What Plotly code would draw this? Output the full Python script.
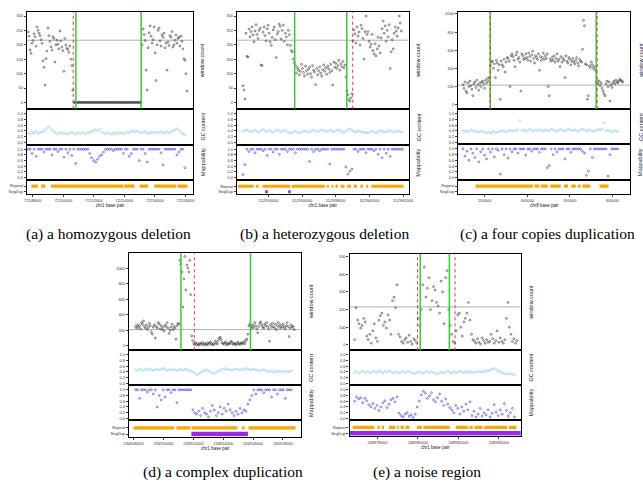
import plotly.graph_objects as go

W, H = 643, 485

# ====================== DATA ======================
# ---- (a) homozygous deletion ----
A_XTICKS = [72148000, 72150000, 72152000, 72154000, 72156000, 72158000]
A_XRANGE = [72147613, 72158494]
A_COUNT_START, A_COUNT_STEP = 72147690, 65
A_COUNT = ([245,230,182,170,205,215,238,228,195,262, 250,240,232,218,205,145,122,60,152,178,
            258,232,212,193,182,228,222,140,200,216, 202,186,248,214,192,180,108,222,200,188,
            184,174,196,150,128,42]
           + [0] * 69 +
           [200,255,236,215,112,43,190,242,266,230, 206,218,262,172,76,200,250,258,214,196,
            234,226,240,190,206,112,210,198,232,226, 246,192,200,216,234,206,222,226,196,230,
            212,186,152,146,100,40])
A_TRACK_START, A_TRACK_STEP = 72147690, 130
A_GC = [34,30,36,33,38,31,35,37,40,47, 55,52,44,38,33,30,35,32,34,31, 29,33,36,32,30,34,31,35,33,30,
        36,34,38,42,45,40,46,37,33,30, 34,31,29,33,30,35,32,34,31,33, 36,34,38,42,37,40,35,33,36,38,
        34,31,35,37,33,36,34,38,32,35, 37,34,36,40,44,48,42,35,30,27]
A_MAP = [100,100,85,100,75,100,100,100,90,100, 100,100,80,100,100,92,100,100,72,100,
         88,100,78,100,50,100,100,100,100,100, 100,85,70,60,55,65,75,80,90,100,
         100,100,100,95,100,100,100,100,85,100, 100,75,85,100,100,100,60,100,100,85,
         55,100,100,100,100,100,100,88,45,100, 100,100,100,100,100,80,90,100,100,35]
A_REPEAT = [(72147900,72148320),(72148540,72148820),(72149190,72153920),(72153980,72154670),
            (72154990,72155550),(72155960,72157400),(72157480,72158130)]
A_SEGDUP = []
A_GREEN = [72150819, 72155095]
A_RED = [72150645]
A_MEAN = 216
A_YRANGE, A_YTICKS = [-22, 314], [0, 50, 100, 150, 200, 250, 300]

# ---- (b) heterozygous deletion ----
B_XTICKS = [152954000, 152956000, 152958000, 152960000, 152962000]
B_XRANGE = [152952128, 152962333]
B_COUNT_START, B_COUNT_STEP = 152952480, 60
B_COUNT = ([58,43,12] +
           [240,160,158,255,228,246,262,235,210,248, 270,236,222,250,258,130,128,244,262,232,
            214,256,268,240,210,198,226,252,262,218, 156,238,246,272,264,220,250,268,212,240,
            228,200,250,235,198,180,176,150] +
           [138,128,102,120,112,96,108,132,118,104, 92,126,110,98,115,122,100,88,128,112,
            106,62,118,96,110,124,102,92,114,130, 108,120,98,126,116,104,132,110,60,140,
            122,136,118,128,146,112,134,124,142,120, 130,88] +
           [40,26,10,4,16,30] +
           [214,252,238,206,262,230,244,200,268,256, 222,150,246,300,236,246,212,192,202,236,
            180,168,204,162,186,226,196,172,224,256, 282,240,266,212,250,228,270,118,176,218,
            186,240,262,248,230,258,300,276,248])
B_TRACK_START, B_TRACK_STEP = 152952480, 120
B_GC = [38,42,44,40,36,41,43,39,35,42, 45,40,37,43,38,35,41,44,39,36, 40,42,38,34,33,37,40,35,32,36,
        39,41,38,35,40,43,39,37,41,44, 42,39,38,43,40,36,41,44,42,38, 35,40,45,47,42,38,36,41,39,35,
        37,34,33,38,40,36,34,38,41,39, 37,36,40,42,38,36,39,41,38,37]
B_MAP = [11,46,100,92,100,100,88,100,100,100, 95,100,78,100,100,90,100,100,82,100,
         100,100,92,100,100,100,88,100,100,100, 100,100,100,57,100,92,100,100,95,100,
         100,100,100,48,100,100,100,100,100,100, 100,38,12,22,30,100,100,92,100,100,
         100,88,100,100,100,95,100,82,100,70, 100,86,100,75,100,100,100,100,100,100]
B_REPEAT = [(152952186,152953123),(152953257,152953415),(152953649,152955305),(152955404,152957352),
            (152957469,152957586),(152957744,152957861),(152957978,152958130),(152958288,152958522),
            (152958680,152958914),(152959066,152959265),(152959458,152959616),(152959809,152959926),
            (152960119,152962032)]
B_SEGDUP = [(152953801,152953959),(152955170,152955322)]
B_GREEN = [152955556, 152958657]
B_RED = [152959008]
B_MEAN = 216
B_YRANGE, B_YTICKS = [-22, 314], [0, 50, 100, 150, 200, 250, 300]

# ---- (c) four copies duplication ----
C_XTICKS = [250000, 300000, 350000, 400000]
C_XRANGE = [218823, 421131]
C_COUNT_START, C_COUNT_STEP = 224600, 1150
C_COUNT = ([220,180,250,150,130,240,200,260,210,170, 100,230,250,190,270,220,160,240,200,250,
            260,230,180,270,240,290,260,300] +
           [430,470,480,400,450,300,490,460,380,440, 60, 480,440,420,500,360,470,520,510,480, 200,
            540,560,530,490,420,550,580,500,520,470, 150,
            560,540,500,510,560,520,490,570,530,480, 550,590,510,460,540,520,500,560,380,530,
            490,520,570,500,540,510,560, 200, 100,
            500,480,520,490,540,470,510,560,480,500, 420,530,470,510,490,300,540,480,460,520,
            500,440,480,510,470,450,490,520,460,430, 500,480,470, 610, 930, 870, 450,440, 60, 100,
            430,410,470,440,400,420,380] +
           [250,270,230,260,210,240,180,150,120,100, 230,260,200,250,40,220,190,240,260,230,
            270,250,240,260,280,270,260,250])
C_TRACK_START, C_TRACK_STEP = 224600, 2300
C_GC = [42,38,40,36,44,39,41,37,35,40, 38,34,33,36,32,35,38,34,37,39, 41,38,36,40,42,38,41,39,43,75,
        40,44,38,42,46,41,39,43,40,45, 42,38,44,41,39,46,43,40,38,42, 45,41,39,43,47,42,40,44,41,38,
        43,46,42,39,41,44,40,38,42,45, 43,47,68,40,42,38,36,41,39,37]
C_MAP = [100,75,92,60,100,85,70,100,55,90, 100,78,65,100,88,100,72,100,95,12,
         100,80,100,68,100,90,100,100,85,100, 100,100,78,100,100,92,100,100,100,88,
         100,100,100,35,42,100,80,100,90,100, 100,100,65,100,100,88,100,100,100,100,
         100,92,85,8,22,100,70,100,100,100, 100,100,100,100,5,80,100,100,100,100]
C_REPEAT = [(239261,306580),(308543,314316),(316280,323900),(327017,339372),(343183,347801),
            (351612,357040),(359349,362467),(364776,374014),(384752,395492)]
C_SEGDUP = []
C_GREEN = [256582, 380942]
C_RED = [256235, 382097]
C_MEAN = 216
C_YRANGE, C_YTICKS = [-48, 1022], [0, 200, 400, 600, 800, 1000]

# ---- (d) complex duplication ----
D_XTICKS = [234908000, 234910000, 234912000, 234914000, 234916000, 234918000]
D_XRANGE = [234907690, 234919234]
D_COUNT_START, D_COUNT_STEP = 234908130, 66
D_COUNT = ([250,230,270,240,260,220,300,280,320,250, 230,270,210,240,290,260,180,150,240,270,
            100,250,230,300,280,220,260,210,240,190, 270,250,300,230,160,200,240,280,210,250,
            230,85,260,290,280] +
           [1100,1050,950,500,860,1150,720,1040,1000,950,1100,660] +
           [130,70,30] +
           [20,40,15,30,10,25,35,20,45,15, 30,25,10,40,20,35,50,25,15,30, 20,60,40,25,70,100,110,80,40,30,
            20,50,35,15,25,40,30,60,45,20, 25,35,15,30,50,25,20,35,40,25, 55,30,70] +
           [90,150,260] +
           [280,250,230,270,240,300,260,220,170,250, 290,310,270,240,230,280,260,300,250,220,
            60,270,240,290,250,230,280,210,260,300, 240,270,230,250,280,240,220,260,300,250,
            120,230,270,240,250,210])
D_TRACK_START, D_TRACK_STEP = 234908130, 132
D_GC = [48,45,50,47,44,49,46,51,48,45, 47,50,46,49,52,48,45,47,50,46, 48,44,47,49,45,50,48,46,43,40,
        35,30,33,38,42,45,47,43,40,36, 34,38,42,46,49,52,48,50,47,45, 49,51,48,46,50,47,52,49,46,48,
        50,47,45,43,46,48,44,42,40,43, 38,41,44,40,42,39,43,41,40,44]
D_MAP = [100,100,70,100,100,100,92,100,100,85, 100,40,80,65,100,75,100,100,90,100,
         100,55,100,100,100,100,100,100,100,
         30,20,15,25,10,35,20,15,5,25, 45,30,10,20,40,15,35,25,50,30, 20,10,25,15,35,20,30,25,
         50,65,80,100,85,100,
         100,100,90,100,100,100,75,100,100,85, 100,100,100,70,100,100,100]
D_REPEAT = [(234908000,234910706),(234910858,234911802),(234911914,234914950),
            (234915260,234915432),(234915696,234918844)]
D_SEGDUP = [(234911868,234915656)]
D_GREEN = [234911168, 234915828]
D_RED = [234912066]
D_MEAN = 210
D_YRANGE, D_YTICKS = [-56, 1192], [0, 200, 400, 600, 800, 1000]

# ---- (e) noise region ----
E_XTICKS = [248978000, 248980000, 248982000, 248984000]
E_XRANGE = [248976622, 248985086]
E_COUNT_START, E_COUNT_STEP = 248976870, 75
E_COUNT = [30,210,140,120,95,110,150,130, 50,30,60,10,80,120,40,20,
           140,165,180,110,130,95,170,140,60, 250,270,210,340,
           60,45,20,10,30,40,15,55,20,5,35,25,10, 150,110,200,
           340,440,270,320,380,200,250,330,310,240,220,180,360,300,120,380,420,
           200,110,60,20,10,80, 170,180,100,50,130,150,180,240,140,60,30,
           20,10,35,15,5,40,25,10,30,15, 20,60,35,10,25,80,15,40,20,10, 30,150,240,100,60,20,35,10,25]
E_TRACK_START, E_TRACK_STEP = 248976870, 100
E_GC = [38,42,35,40,44,37,41,39,36,43, 40,38,45,41,37,42,39,44,40,36, 38,41,35,39,43,37,40,42,38,36,
        34,38,41,37,35,39,42,36,40,38, 35,33,37,40,36,39,42,38,35,41, 37,40,43,39,36,42,38,41,37,40,
        40,39,42,38,41,44,43,46,50,52, 48,44,40,37,34,33,31,34,32,30]
E_MAP = [60,75,68,72,55,70,62,48,40,52, 35,45,28,40,55,62,38,50,65,70, 58,75,
         18,10,5,15,20,8,12,3,15,
         40,60,82,95,88,70,78,90,65,58, 72,85,60,45,68,50,38,
         30,20,45,35,15,40,25,50,30,58,
         10,25,5,15,35,8,20,12,30,5, 18,48,22,10,30,15,52,28,8,20, 35,5]
E_REPEAT = [(248976782,248977839),(248978000,248978117),(248978214,248978326),(248978570,248978896),
            (248978974,248979057),(248979140,248979300),(248979383,248979578),(248979948,248980192),
            (248980274,248981575),(248981867,248982466),(248982549,248982709),(248982792,248983196),
            (248983279,248984414),(248984497,248984867)]
E_SEGDUP = [(248976622,248985086)]
E_GREEN = [248980114, 248981555]
E_RED = [248979982, 248981833]
E_MEAN = 215
E_YRANGE, E_YTICKS = [-30, 515], [0, 100, 200, 300, 400, 500]

CAPTIONS = ["(a) a homozygous deletion", "(b) a heterozygous deletion",
            "(c) a four copies duplication", "(d) a complex duplication", "(e) a noise region"]
XLABELS = ["chr1 base pair", "chr1 base pair", "chr8 base pair", "chr1 base pair", "chr1 base pair"]
ROW_LABELS = ["window count", "GC content", "Mappability"]

# ====================== LAYOUT (pixels) ======================
PANELS = [
    dict(x=(22.3, 191), rows=[(11, 108), (108, 144), (144, 179), (179, 193.3)], cap=(105, 233), segw=3),
    dict(x=(235.7, 410), rows=[(11, 108), (108, 144), (144, 179), (179, 193.6)], cap=(325, 233), segw=3),
    dict(x=(460.3, 635.3), rows=[(11, 108.3), (108.3, 143.6), (143.6, 179), (179, 193.3)], cap=(551, 233), segw=3),
    dict(x=(126, 301), rows=[(252.7, 350), (350, 385), (385, 420.3), (420.3, 436.7)], cap=(221, 472), segw=4.5),
    dict(x=(350, 524), rows=[(253.3, 350), (350, 385), (385, 420.3), (420.3, 435.7)], cap=(429, 472), segw=4.5),
]
DATA = [
    dict(xt=A_XTICKS, xr=A_XRANGE, cs=A_COUNT_START, cst=A_COUNT_STEP, c=A_COUNT, ts=A_TRACK_START, tst=A_TRACK_STEP,
         gc=A_GC, mp=A_MAP, rep=A_REPEAT, sd=A_SEGDUP, g=A_GREEN, r=A_RED, m=A_MEAN, yr=A_YRANGE, yt=A_YTICKS),
    dict(xt=B_XTICKS, xr=B_XRANGE, cs=B_COUNT_START, cst=B_COUNT_STEP, c=B_COUNT, ts=B_TRACK_START, tst=B_TRACK_STEP,
         gc=B_GC, mp=B_MAP, rep=B_REPEAT, sd=B_SEGDUP, g=B_GREEN, r=B_RED, m=B_MEAN, yr=B_YRANGE, yt=B_YTICKS),
    dict(xt=C_XTICKS, xr=C_XRANGE, cs=C_COUNT_START, cst=C_COUNT_STEP, c=C_COUNT, ts=C_TRACK_START, tst=C_TRACK_STEP,
         gc=C_GC, mp=C_MAP, rep=C_REPEAT, sd=C_SEGDUP, g=C_GREEN, r=C_RED, m=C_MEAN, yr=C_YRANGE, yt=C_YTICKS),
    dict(xt=D_XTICKS, xr=D_XRANGE, cs=D_COUNT_START, cst=D_COUNT_STEP, c=D_COUNT, ts=D_TRACK_START, tst=D_TRACK_STEP,
         gc=D_GC, mp=D_MAP, rep=D_REPEAT, sd=D_SEGDUP, g=D_GREEN, r=D_RED, m=D_MEAN, yr=D_YRANGE, yt=D_YTICKS),
    dict(xt=E_XTICKS, xr=E_XRANGE, cs=E_COUNT_START, cst=E_COUNT_STEP, c=E_COUNT, ts=E_TRACK_START, tst=E_TRACK_STEP,
         gc=E_GC, mp=E_MAP, rep=E_REPEAT, sd=E_SEGDUP, g=E_GREEN, r=E_RED, m=E_MEAN, yr=E_YRANGE, yt=E_YTICKS),
]

SANS = "Liberation Sans, Arial, sans-serif"
fig = go.Figure()
layout = dict(width=W, height=H, margin=dict(l=0, r=0, t=0, b=0), paper_bgcolor="white",
              plot_bgcolor="white", showlegend=False, shapes=[], annotations=[])


def xdom(a, b):
    return [a / W, b / W]


def ydom(top, bot):
    return [1 - bot / H, 1 - top / H]


def ax(letter, k):
    return letter if k == 1 else f"{letter}{k}"


frame = dict(showline=True, linecolor="black", linewidth=1.3, mirror=True, showgrid=False, zeroline=False)
MK = dict(symbol="circle-open", size=1.9)
k = 0
for pi, (p, d) in enumerate(zip(PANELS, DATA)):
    x0, x1 = p["x"]
    ks = []
    for ri, (top, bot) in enumerate(p["rows"]):
        k += 1
        ks.append(k)
        last = ri == 3
        xa = dict(frame, domain=xdom(x0, x1), range=d["xr"], anchor=ax("y", k),
                  tickvals=d["xt"] if last else [], ticks="outside" if last else "",
                  ticklen=2, tickwidth=0.8, tickformat="d", showticklabels=last,
                  tickfont=dict(size=4, family=SANS, color="#333"))
        if last:
            xa["title"] = dict(text=XLABELS[pi], font=dict(size=4.5, family=SANS, color="#222"), standoff=0)
        if ri == 0:
            yr, yt, ytt = d["yr"], d["yt"], [str(v) for v in d["yt"]]
        elif ri in (1, 2):
            yr = [-0.07, 1.16]
            yt = [0, 0.2, 0.4, 0.6, 0.8, 1.0]
            ytt = ["0.0", "0.2", "0.4", "0.6", "0.8", "1.0"]
        else:
            yr, yt, ytt = [-0.45, 2.2], [0, 1], ["SegDup", "Repeat"]
        ya = dict(frame, domain=ydom(top, bot), range=yr, anchor=ax("x", k), tickvals=yt, ticktext=ytt,
                  ticks="outside", ticklen=2, tickwidth=0.8, tickfont=dict(size=4, family=SANS, color="#333"))
        layout["xaxis" if k == 1 else f"xaxis{k}"] = xa
        layout["yaxis" if k == 1 else f"yaxis{k}"] = ya

    kc, kg, km, kr = ks
    # window counts
    cx = [d["cs"] + i * d["cst"] for i in range(len(d["c"]))]
    fig.add_trace(go.Scatter(x=cx, y=d["c"], mode="markers", xaxis=ax("x", kc), yaxis=ax("y", kc),
                             marker=dict(MK, color="#222222", line=dict(width=0.55))))
    # GC content
    tx = [d["ts"] + i * d["tst"] for i in range(len(d["gc"]))]
    fig.add_trace(go.Scatter(x=tx, y=[v / 100 for v in d["gc"]], mode="markers", xaxis=ax("x", kg), yaxis=ax("y", kg),
                             marker=dict(MK, color="#8ccfe0", line=dict(width=0.6))))
    # mappability
    mx = [d["ts"] + i * d["tst"] for i in range(len(d["mp"]))]
    fig.add_trace(go.Scatter(x=mx, y=[v / 100 for v in d["mp"]], mode="markers", xaxis=ax("x", km), yaxis=ax("y", km),
                             marker=dict(MK, color="#3434e0", line=dict(width=0.6))))
    # repeat / segdup tracks
    rx, ry = [], []
    for s, e in d["rep"]:
        rx += [s, e, None]
        ry += [1, 1, None]
    fig.add_trace(go.Scatter(x=rx, y=ry, mode="lines", xaxis=ax("x", kr), yaxis=ax("y", kr),
                             line=dict(color="#ffa500", width=3.2)))
    if d["sd"]:
        sx, sy = [], []
        for s, e in d["sd"]:
            sx += [s, e, None]
            sy += [0, 0, None]
        fig.add_trace(go.Scatter(x=sx, y=sy, mode="lines", xaxis=ax("x", kr), yaxis=ax("y", kr),
                                 line=dict(color="#9a2be2", width=p["segw"])))
    # mean line
    layout["shapes"].append(dict(type="line", xref=ax("x", kc) + " domain", yref=ax("y", kc), x0=0, x1=1,
                                 y0=d["m"], y1=d["m"], line=dict(color="#b0b0b0", width=1), layer="below"))
    for b in d["g"]:
        layout["shapes"].append(dict(type="line", xref=ax("x", kc), yref=ax("y", kc) + " domain",
                                     x0=b, x1=b, y0=0, y1=1, line=dict(color="#33cc33", width=1.5)))
    for b in d["r"]:
        layout["shapes"].append(dict(type="line", xref=ax("x", kc), yref=ax("y", kc) + " domain",
                                     x0=b, x1=b, y0=0, y1=1, line=dict(color="#e83030", width=1, dash="dot")))
    # right-hand row labels
    for ri in range(3):
        top, bot = p["rows"][ri]
        layout["annotations"].append(dict(text=ROW_LABELS[ri], xref="paper", yref="paper",
                                          x=(x1 + 10) / W, y=1 - (top + bot) / 2 / H, showarrow=False,
                                          textangle=-90, font=dict(size=5.5, family=SANS, color="#222"),
                                          xanchor="center", yanchor="middle"))

for i, p in enumerate(PANELS):
    cx, cy = p["cap"]
    layout["annotations"].append(dict(text=CAPTIONS[i], xref="paper", yref="paper", x=cx / W, y=1 - cy / H,
                                      showarrow=False, xanchor="center", yanchor="middle",
                                      font=dict(size=15.5, family="Liberation Serif, Times New Roman, serif",
                                                color="black")))

fig.update_layout(**layout)
fig.write_html("out.html")
